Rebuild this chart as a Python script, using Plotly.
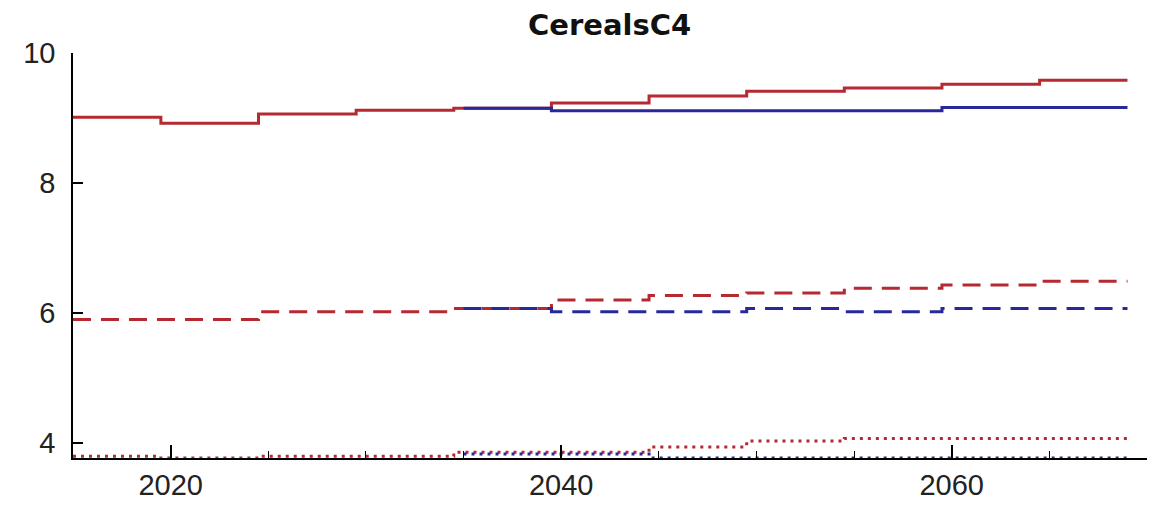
import plotly.graph_objects as go

# Period step boundaries (years) - each period value holds between consecutive boundaries
step_years = [2015, 2019.5, 2024.5, 2029.5, 2034.5, 2039.5, 2044.5, 2049.5, 2054.5, 2059.5, 2064.5, 2069]
blue_years = [2035, 2039.5, 2044.5, 2049.5, 2054.5, 2059.5, 2064.5, 2069]

red_solid = [9.01, 8.92, 9.06, 9.12, 9.15, 9.23, 9.34, 9.41, 9.46, 9.52, 9.58]
blue_solid = [9.15, 9.11, 9.11, 9.11, 9.11, 9.16, 9.16]

red_dashed = [5.90, 5.90, 6.02, 6.02, 6.07, 6.20, 6.27, 6.31, 6.38, 6.43, 6.49]
blue_dashed = [6.07, 6.02, 6.02, 6.07, 6.02, 6.07, 6.07]

red_dotted = [3.795, 3.77, 3.795, 3.795, 3.86, 3.86, 3.94, 4.03, 4.07, 4.07, 4.07]
blue_dotted = [3.83, 3.83, 3.77, 3.77, 3.77, 3.77, 3.77]

x_tickvals = [2020, 2040, 2060]
y_tickvals = [4, 6, 8, 10]
title_text = "CerealsC4"

RED = "#b52a30"
BLUE = "#28289a"


def steps(xs, vals):
    # append last value so the final period extends to the last boundary
    return xs, vals + [vals[-1]]


fig = go.Figure()
series = [
    (step_years, red_solid, RED, "solid"),
    (blue_years, blue_solid, BLUE, "solid"),
    (step_years, red_dashed, RED, "18px,10px"),
    (blue_years, blue_dashed, BLUE, "18px,10px"),
    (step_years, red_dotted, RED, "3px,5px"),
    (blue_years, blue_dotted, BLUE, "3px,5px"),
]
for xs, vals, col, dash in series:
    x, y = steps(xs, vals)
    fig.add_trace(go.Scatter(
        x=x, y=y, mode="lines",
        line=dict(color=col, width=3, dash=dash, shape="hv"),
        showlegend=False, hoverinfo="skip",
    ))

fig.update_layout(
    width=1159, height=507,
    margin=dict(l=73, r=12, t=53, b=49),
    paper_bgcolor="white", plot_bgcolor="white",
    title=dict(text=title_text, x=0.526, xanchor="center", y=1 - 25 / 507,
               yanchor="middle", yref="container",
               font=dict(family="DejaVu Sans", size=29, color="#111", weight="bold")),
    showlegend=False,
)
fig.update_xaxes(
    range=[2015, 2070], tickvals=x_tickvals, ticktext=[str(v) for v in x_tickvals],
    showgrid=False, zeroline=False, showline=True, linecolor="black", linewidth=1.5,
    ticks="inside", ticklen=13, tickwidth=1.5, tickcolor="black",
    minor=dict(dtick=5, tick0=2015, ticks="inside", ticklen=7, tickwidth=1.2, tickcolor="black"),
    tickfont=dict(family="Liberation Sans", size=29, color="#222"),
    automargin=False,
)
fig.update_yaxes(
    range=[3.77, 10], tickvals=y_tickvals, ticktext=[str(v) for v in y_tickvals],
    showgrid=False, zeroline=False, showline=True, linecolor="black", linewidth=1.5,
    ticks="inside", ticklen=10, tickwidth=1.5, tickcolor="black",
    tickfont=dict(family="Liberation Sans", size=29, color="#222"),
    ticklabelstandoff=10, automargin=False,
)

fig.write_html("out.html")
